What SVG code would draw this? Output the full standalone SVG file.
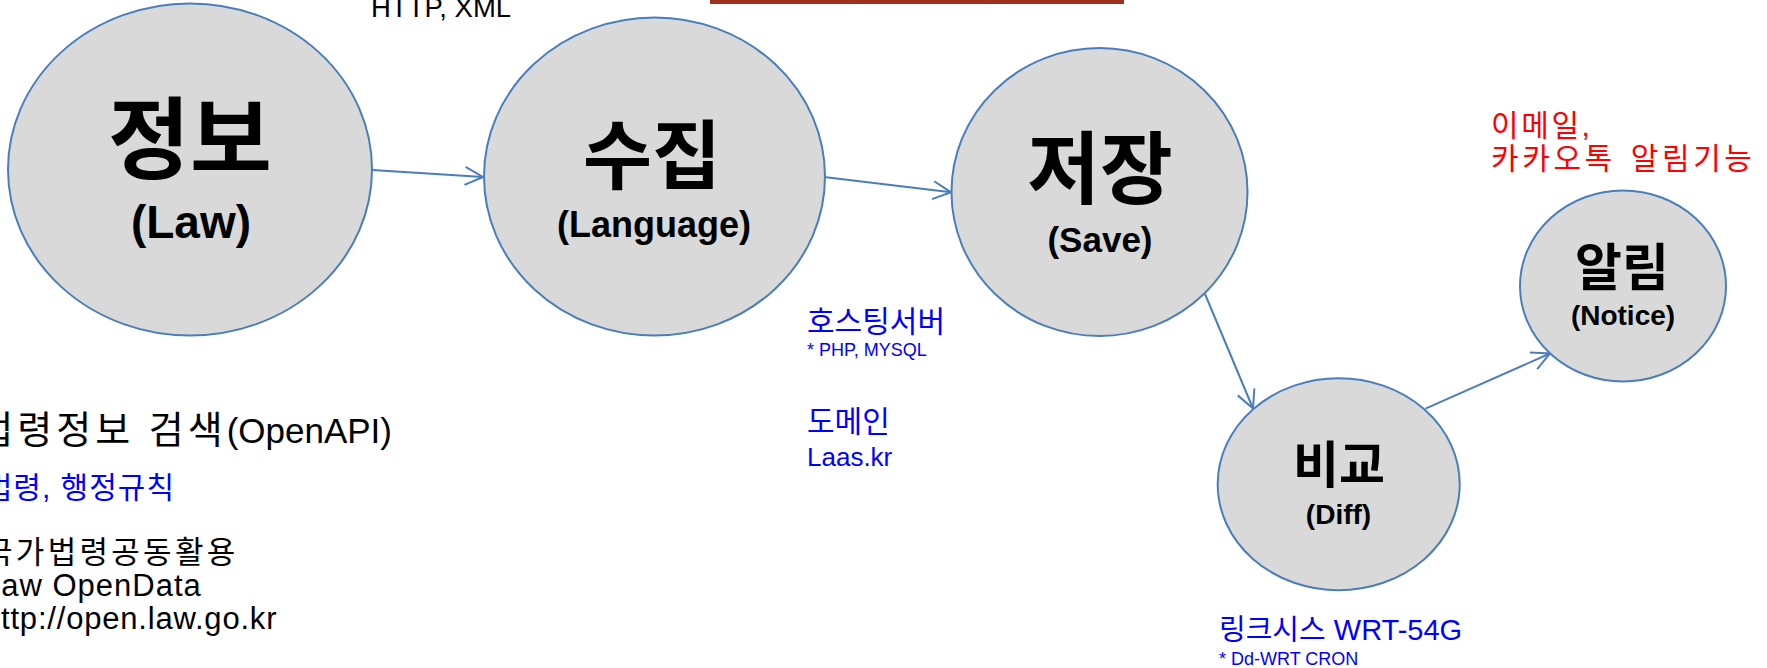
<svg xmlns="http://www.w3.org/2000/svg" width="1767" height="668" viewBox="0 0 1767 668">
<style>
text{font-family:"Liberation Sans","Noto Sans CJK KR",sans-serif}
.node{fill:#D9D9D9;stroke:#4A7EBB;stroke-width:2}
.t{font-weight:bold;fill:#000;text-anchor:middle}
.conn{stroke:#4A7EBB;stroke-width:2;fill:none}
.blue{fill:#0000FF}
.red{fill:#FF0000}
.blk{fill:#000}
</style>
<defs>
<marker id="arr" markerUnits="userSpaceOnUse" viewBox="-22 -12 26 24" refX="0" refY="0" markerWidth="26" markerHeight="24" orient="auto">
<path d="M-18,-9 L0,0 L-18,9" fill="none" stroke="#4A7EBB" stroke-width="2"/>
</marker>
</defs>
<rect x="710" y="0" width="414" height="4" fill="#9E2F1D"/>
<line x1="851" y1="0" x2="851" y2="4" stroke="#B03322" stroke-width="1"/>
<line x1="992" y1="0" x2="992" y2="4" stroke="#B03322" stroke-width="1"/>
<g id="connectors">
<line class="conn" x1="372" y1="170" x2="483" y2="177" marker-end="url(#arr)"/>
<line class="conn" x1="826" y1="177.3" x2="951" y2="192.3" marker-end="url(#arr)"/>
<line class="conn" x1="1205" y1="294" x2="1253" y2="408.5" marker-end="url(#arr)"/>
<line class="conn" x1="1425.5" y1="408.7" x2="1550" y2="353.5" marker-end="url(#arr)"/>
</g>
<g id="node-info">
<ellipse class="node" cx="190" cy="169.5" rx="182" ry="166"/>
<text class="t" x="190" y="171" font-size="89">정보</text>
<text class="t" x="191" y="238" font-size="46">(Law)</text>
</g>
<g id="node-collect">
<ellipse class="node" cx="654.5" cy="176.5" rx="170.5" ry="159"/>
<text class="t" x="652" y="183" font-size="75">수집</text>
<text class="t" x="654" y="237" font-size="36">(Language)</text>
</g>
<g id="node-save">
<ellipse class="node" cx="1099.5" cy="192" rx="148" ry="144"/>
<text class="t" x="1100" y="198" font-size="79">저장</text>
<text class="t" x="1100" y="252" font-size="35">(Save)</text>
</g>
<g id="node-diff">
<ellipse class="node" cx="1338.7" cy="484.2" rx="121" ry="106"/>
<text class="t" x="1339" y="483" font-size="50">비교</text>
<text class="t" x="1338.5" y="524" font-size="28">(Diff)</text>
</g>
<g id="node-notice">
<ellipse class="node" cx="1623" cy="286" rx="103" ry="95.5"/>
<text class="t" x="1622" y="286" font-size="51">알림</text>
<text class="t" x="1623" y="325" font-size="28">(Notice)</text>
</g>
<g id="labels">
<text class="blk" x="371" y="17" font-size="27.5">HTTP, XML</text>
<text class="blk" x="392" y="443" font-size="35" text-anchor="end"><tspan font-size="38" letter-spacing="4">법령정보 검색</tspan><tspan>(OpenAPI)</tspan></text>
<text class="blue" x="175" y="498" font-size="30" letter-spacing="1" text-anchor="end">법령, 행정규칙</text>
<text class="blk" x="-16" y="563" font-size="31" letter-spacing="3.3">국가법령공동활용</text>
<text class="blk" x="-17" y="596" font-size="31" letter-spacing="1">Law OpenData</text>
<text class="blk" x="-17" y="629" font-size="31" letter-spacing="0.8">http://open.law.go.kr</text>
<text class="blue" x="807" y="332" font-size="30">호스팅서버</text>
<text class="blue" x="807" y="356" font-size="18">* PHP, MYSQL</text>
<text class="blue" x="807" y="432" font-size="30">도메인</text>
<text class="blue" x="807" y="466" font-size="26">Laas.kr</text>
<text class="blue" x="1219" y="640" font-size="29">링크시스 WRT-54G</text>
<text class="blue" x="1219" y="665" font-size="18">* Dd-WRT CRON</text>
<text class="red" x="1491" y="136" font-size="30" letter-spacing="2.6">이메일,</text>
<text class="red" x="1491" y="169" font-size="30" letter-spacing="3.6" word-spacing="3">카카오톡 알림기능</text>
</g>
</svg>
